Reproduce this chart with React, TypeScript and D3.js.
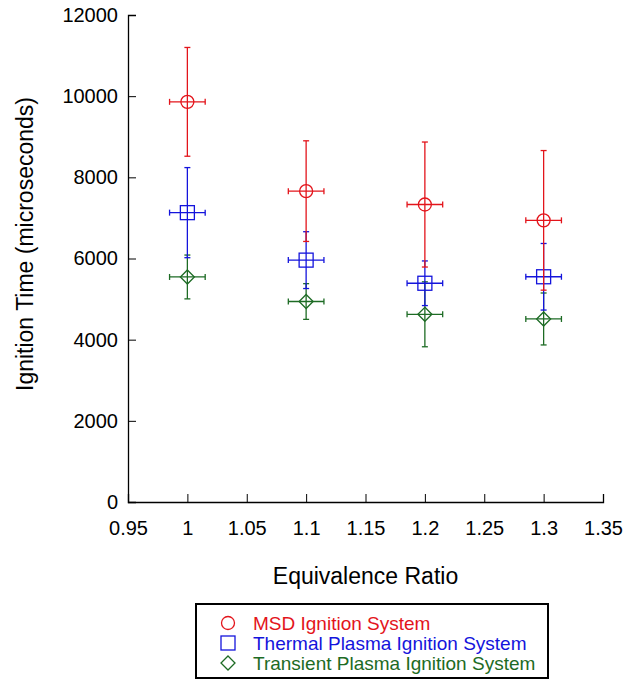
import React, { useRef, useEffect } from "react";
import * as d3 from "d3";

// equivalence ratios and measured ignition times (microseconds)
const ratios = [1.0, 1.1, 1.2, 1.3];
const msdMean = [9860, 7660, 7330, 6940];
const msdErr = [1340, 1240, 1540, 1720];
const thermalMean = [7130, 5960, 5390, 5550];
const thermalErr = [1110, 700, 550, 820];
const transientMean = [5545, 4940, 4625, 4510];
const transientErr = [540, 440, 800, 640];
const ratioErr = [0.015, 0.015, 0.015, 0.015];

const xTicks = [0.95, 1, 1.05, 1.1, 1.15, 1.2, 1.25, 1.3, 1.35];
const yTicks = [0, 2000, 4000, 6000, 8000, 10000, 12000];

const seriesNames = [
  "MSD Ignition System",
  "Thermal Plasma Ignition System",
  "Transient Plasma Ignition System",
];
const seriesColors = ["#e3141b", "#1414dc", "#1d6b24"];
const seriesShapes = ["circle", "square", "diamond"];

const App = () => {
  const ref = useRef<SVGSVGElement | null>(null);

  useEffect(() => {
    const width = 636;
    const height = 681;
    const margin = { top: 15, right: 33, bottom: 179, left: 128 };

    const svg = d3.select(ref.current);
    svg.selectAll("*").remove();

    const x = d3
      .scaleLinear()
      .domain([0.95, 1.35])
      .range([margin.left, width - margin.right]);
    const y = d3
      .scaleLinear()
      .domain([0, 12000])
      .range([height - margin.bottom, margin.top]);

    const font = "'Liberation Sans', Arial, sans-serif";

    // ticks point inward
    const xAxis = svg
      .append("g")
      .attr("transform", `translate(0,${y(0)})`)
      .call(
        d3
          .axisBottom(x)
          .tickValues(xTicks)
          .tickSize(-8)
          .tickPadding(19)
          .tickFormat((d) => String(+d))
      );
    const yAxis = svg
      .append("g")
      .attr("transform", `translate(${x(0.95)},0)`)
      .call(
        d3
          .axisLeft(y)
          .tickValues(yTicks)
          .tickSize(-8)
          .tickPadding(10)
          .tickFormat((d) => String(d))
      );
    [xAxis, yAxis].forEach((g) => {
      g.select(".domain").attr("stroke", "#000").attr("stroke-width", 1.3);
      g.selectAll(".tick line").attr("stroke", "#000");
      g.selectAll(".tick text")
        .attr("font-family", font)
        .attr("font-size", 20)
        .attr("fill", "#000");
    });

    svg
      .append("text")
      .attr("x", (x(0.95) + x(1.35)) / 2)
      .attr("y", 584)
      .attr("text-anchor", "middle")
      .attr("font-family", font)
      .attr("font-size", 23)
      .text("Equivalence Ratio");

    svg
      .append("text")
      .attr("transform", `translate(33,${244}) rotate(-90)`)
      .attr("text-anchor", "middle")
      .attr("font-family", font)
      .attr("font-size", 23)
      .text("Ignition Time (microseconds)");

    const drawMarker = (
      g: d3.Selection<SVGGElement, unknown, null, undefined>,
      shape: string,
      cx: number,
      cy: number,
      color: string
    ) => {
      if (shape === "circle") {
        g.append("circle")
          .attr("cx", cx)
          .attr("cy", cy)
          .attr("r", 6.5)
          .attr("fill", "none")
          .attr("stroke", color)
          .attr("stroke-width", 1.3);
      } else if (shape === "square") {
        g.append("rect")
          .attr("x", cx - 7)
          .attr("y", cy - 7)
          .attr("width", 14)
          .attr("height", 14)
          .attr("fill", "none")
          .attr("stroke", color)
          .attr("stroke-width", 1.3);
      } else {
        g.append("path")
          .attr("d", `M${cx},${cy - 7}L${cx + 7},${cy}L${cx},${cy + 7}L${cx - 7},${cy}Z`)
          .attr("fill", "none")
          .attr("stroke", color)
          .attr("stroke-width", 1.3);
      }
    };

    const series = [
      { mean: msdMean, err: msdErr },
      { mean: thermalMean, err: thermalErr },
      { mean: transientMean, err: transientErr },
    ];

    // draw green first so red sits on top, like the original overlap
    [2, 1, 0].forEach((si) => {
      const s = series[si];
      const color = seriesColors[si];
      const g = svg.append("g").attr("stroke", color).attr("stroke-width", 1.3);
      ratios.forEach((r, i) => {
        const cx = x(r);
        const cy = y(s.mean[i]);
        const top = y(s.mean[i] + s.err[i]);
        const bot = y(s.mean[i] - s.err[i]);
        const left = x(r - ratioErr[i]);
        const right = x(r + ratioErr[i]);
        g.append("line").attr("x1", cx).attr("x2", cx).attr("y1", top).attr("y2", bot);
        g.append("line").attr("x1", cx - 3).attr("x2", cx + 3).attr("y1", top).attr("y2", top);
        g.append("line").attr("x1", cx - 3).attr("x2", cx + 3).attr("y1", bot).attr("y2", bot);
        g.append("line").attr("x1", left).attr("x2", right).attr("y1", cy).attr("y2", cy);
        g.append("line").attr("x1", left).attr("x2", left).attr("y1", cy - 3).attr("y2", cy + 3);
        g.append("line").attr("x1", right).attr("x2", right).attr("y1", cy - 3).attr("y2", cy + 3);
        drawMarker(g, seriesShapes[si], cx, cy, color);
      });
    });

    // legend
    const legend = svg.append("g");
    legend
      .append("rect")
      .attr("x", 196)
      .attr("y", 604)
      .attr("width", 352)
      .attr("height", 74)
      .attr("fill", "#fff")
      .attr("stroke", "#000")
      .attr("stroke-width", 2);
    seriesNames.forEach((name, i) => {
      const ly = 623 + i * 20;
      drawMarker(legend, seriesShapes[i], 228, ly, seriesColors[i]);
      legend
        .append("text")
        .attr("x", 253)
        .attr("y", ly)
        .attr("dy", "0.35em")
        .attr("font-family", font)
        .attr("font-size", 19)
        .attr("fill", seriesColors[i])
        .text(name);
    });
  }, []);

  return (
    <svg
      ref={ref}
      width={636}
      height={681}
      style={{ position: "absolute", left: 0, top: 0, background: "#fff" }}
    />
  );
};

export default App;
